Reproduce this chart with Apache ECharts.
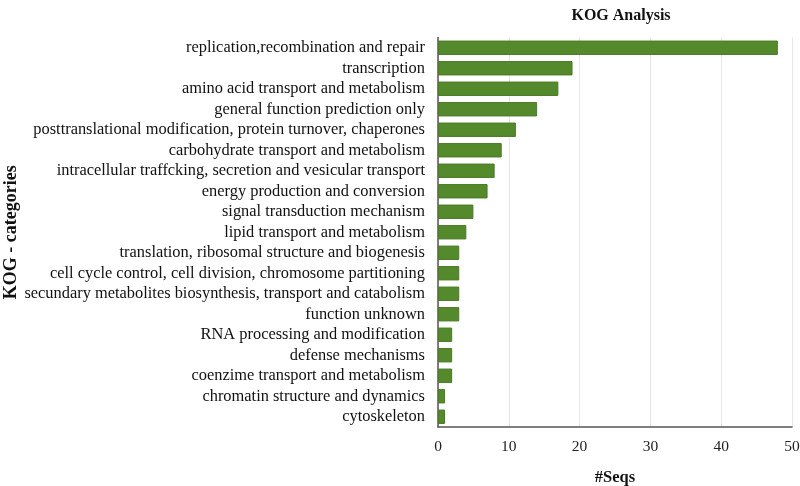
<!DOCTYPE html>
<html><head><meta charset="utf-8">
<script src="https://cdn.jsdelivr.net/npm/echarts@6/dist/echarts.min.js"></script>
<style>html,body{margin:0;padding:0;background:#fff}#c{width:800px;height:486px}</style>
</head><body><div id="c"></div>
<script>
const categories = [
  "replication,recombination and repair",
  "transcription",
  "amino acid transport and metabolism",
  "general function prediction only",
  "posttranslational modification, protein turnover, chaperones",
  "carbohydrate transport and metabolism",
  "intracellular traffcking, secretion and vesicular transport",
  "energy production and conversion",
  "signal transduction mechanism",
  "lipid transport and metabolism",
  "translation, ribosomal structure and biogenesis",
  "cell cycle control, cell division, chromosome partitioning",
  "secundary metabolites biosynthesis, transport and catabolism",
  "function unknown",
  "RNA processing and modification",
  "defense mechanisms",
  "coenzime transport and metabolism",
  "chromatin structure and dynamics",
  "cytoskeleton"
];
const seqs = [48, 19, 17, 14, 11, 9, 8, 7, 5, 4, 3, 3, 3, 3, 2, 2, 2, 1, 1];
const xTicks = [0, 10, 20, 30, 40, 50];

const font = "'Liberation Serif', 'DejaVu Serif', serif";
const chart = echarts.init(document.getElementById('c'), null, {renderer: 'canvas'});
chart.setOption({
  animation: false,
  title: {
    text: 'KOG Analysis', left: 616, top: 3, textAlign: 'center',
    textStyle: {fontFamily: font, fontSize: 16, fontWeight: 'bold', color: '#111'}
  },
  grid: {left: 438, right: 8, top: 37.5, bottom: 59, containLabel: false, outerBoundsMode: 'none'},
  xAxis: {
    type: 'value', min: xTicks[0], max: xTicks[xTicks.length - 1], interval: 10,
    name: '#Seqs', nameLocation: 'middle', nameGap: 42,
    nameTextStyle: {fontFamily: font, fontSize: 16.5, fontWeight: 'bold', color: '#111'},
    axisLine: {show: true, lineStyle: {color: '#555', width: 1.5}},
    axisTick: {show: false},
    axisLabel: {fontFamily: font, fontSize: 15.5, color: '#222', margin: 12},
    splitLine: {show: true, lineStyle: {color: '#e6e6e6', width: 1}}
  },
  yAxis: {
    type: 'category', data: categories, inverse: true,
    name: 'KOG - categories', nameLocation: 'middle', nameGap: 417, nameRotate: 90,
    nameTextStyle: {fontFamily: font, fontSize: 18, fontWeight: 'bold', color: '#111'},
    axisLine: {show: true, lineStyle: {color: '#555', width: 1.5}},
    axisTick: {show: false},
    axisLabel: {fontFamily: font, fontSize: 16.4, color: '#111', margin: 13, interval: 0, hideOverlap: false},
    splitLine: {show: false}
  },
  series: [{
    type: 'bar', data: seqs, barWidth: '70%',
    itemStyle: {color: '#548a2c', borderColor: '#4a7a24', borderWidth: 1}
  }]
});
</script></body></html>
